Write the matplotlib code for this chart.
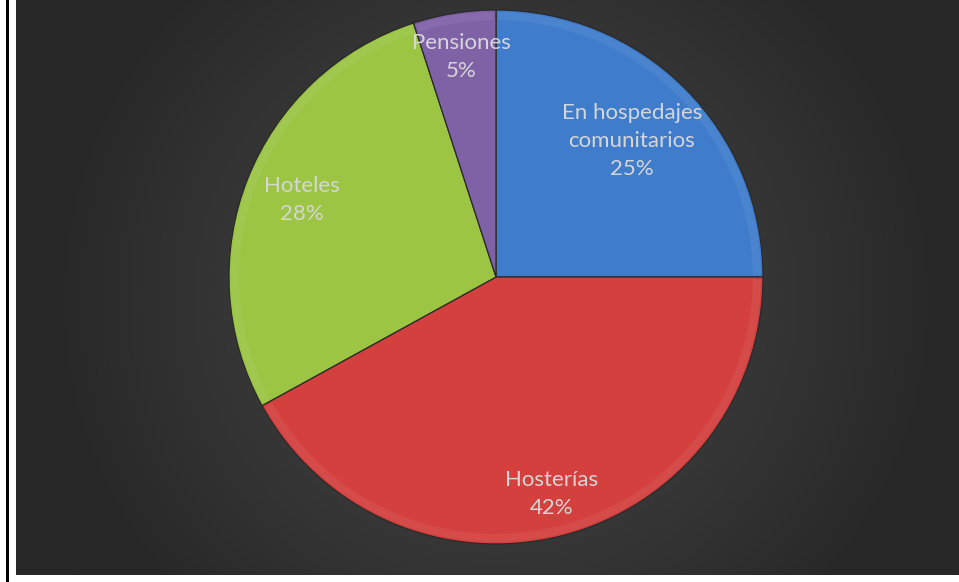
import numpy as np
import matplotlib
matplotlib.use('Agg')
import matplotlib.pyplot as plt
from matplotlib.patches import Rectangle, Wedge

# Establecimientos de alojamiento por tipo
categories = ['En hospedajes\ncomunitarios', 'Hosterías', 'Hoteles', 'Pensiones']
shares = [25, 42, 28, 5]

COLORS = ['#3f7ccb', '#d3403e', '#9bc543', '#7f61a6']
LABEL_DIST = [0.72, 0.84, 0.78, 0.835]
TEXT_COLOR = '#d6d6d6'

W, H = 959, 582
fig = plt.figure(figsize=(W / 100, H / 100), dpi=100, facecolor='white')

# Frame: thin black rule on the left, dark gradient panel
fig.add_artist(Rectangle((6 / W, 0), 2.5 / W, 1, transform=fig.transFigure,
                         facecolor='black', edgecolor='none'))
bg = fig.add_axes([16 / W, 7 / H, (W - 16) / W, (H - 7) / H])
bg.set_axis_off()
yy, xx = np.mgrid[0:1:300j, 0:1:500j]
cx, cy = (496 - 16) / (W - 16), 0.52
dist = np.sqrt(((xx - cx) * 1.6) ** 2 + (yy - cy) ** 2)
shade = np.clip(74 - 45 * dist, 40, 74) / 255.0
bg.imshow(np.dstack([shade] * 3), extent=[0, 1, 0, 1], aspect='auto',
          interpolation='bilinear')
bg.set_xlim(0, 1)
bg.set_ylim(0, 1)

# Pie axes sized so radius 1 maps to the disc
cxp, cyp, r = 496, 277, 267
ax = fig.add_axes([(cxp - r) / W, (H - cyp - r) / H, 2 * r / W, 2 * r / H])
ax.set_axis_off()
wedges, _ = ax.pie(shares, colors=COLORS, startangle=90, counterclock=False,
                   radius=1.0,
                   wedgeprops=dict(edgecolor='#2a2a2a', linewidth=0.9))

# Soft bevel highlight just inside the rim
for w in wedges:
    ax.add_patch(Wedge(w.center, w.r - 0.008, w.theta1 + 0.5, w.theta2 - 0.5,
                       width=0.03, facecolor='white', alpha=0.06,
                       edgecolor='none'))

total = sum(shares)
for w, name, val, d in zip(wedges, categories, shares, LABEL_DIST):
    mid = np.deg2rad((w.theta1 + w.theta2) / 2)
    ax.text(d * np.cos(mid), d * np.sin(mid),
            f'{name}\n{round(100 * val / total)}%',
            ha='center', va='center', color=TEXT_COLOR, fontsize=16,
            family=['Lato', 'DejaVu Sans'], linespacing=1.5)

ax.set_xlim(-1, 1)
ax.set_ylim(-1, 1)

fig.savefig('out.png', dpi=100, facecolor='white')
